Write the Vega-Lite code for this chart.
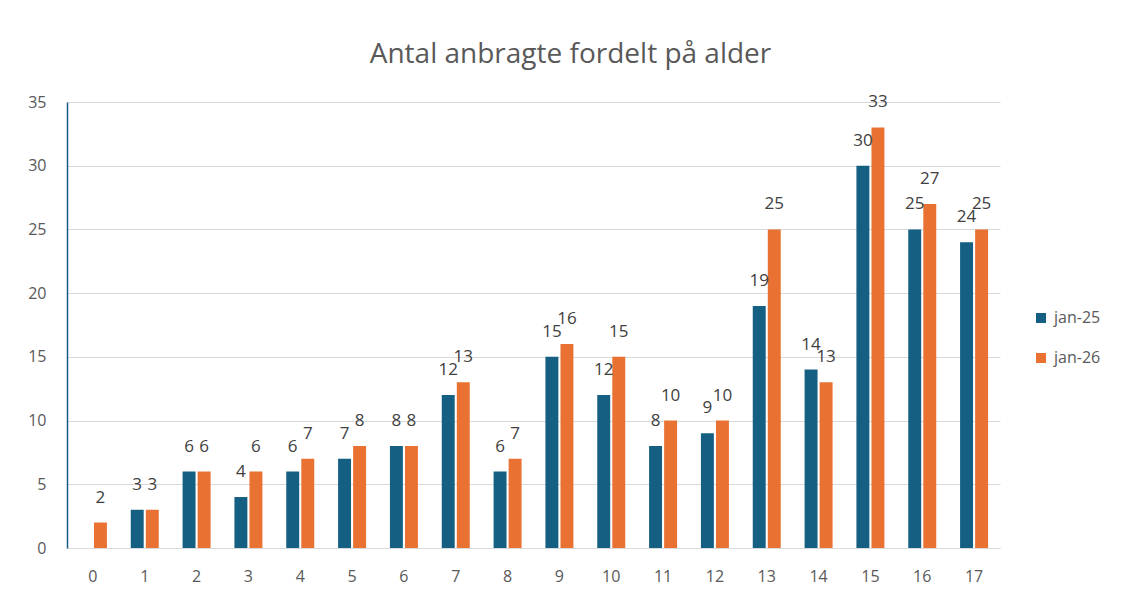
{
  "$schema": "https://vega.github.io/schema/vega-lite/v6.json",
  "autosize": {"type": "none"},
  "width": 933,
  "height": 446,
  "padding": {"left": 67, "top": 102, "right": 125, "bottom": 50},
  "background": "white",
  "config": {
    "font": "Open Sans",
    "view": {"stroke": null}
  },
  "title": {
    "text": "Antal anbragte fordelt på alder",
    "font": "Open Sans",
    "fontSize": 28,
    "fontWeight": "normal",
    "color": "#595959",
    "anchor": "middle",
    "dx": 37,
    "offset": 24
  },
  "data": {
    "values": [
      {"alder": "0", "serie": "jan-26", "antal": 2},
      {"alder": "1", "serie": "jan-25", "antal": 3},
      {"alder": "1", "serie": "jan-26", "antal": 3},
      {"alder": "2", "serie": "jan-25", "antal": 6},
      {"alder": "2", "serie": "jan-26", "antal": 6},
      {"alder": "3", "serie": "jan-25", "antal": 4},
      {"alder": "3", "serie": "jan-26", "antal": 6},
      {"alder": "4", "serie": "jan-25", "antal": 6},
      {"alder": "4", "serie": "jan-26", "antal": 7},
      {"alder": "5", "serie": "jan-25", "antal": 7},
      {"alder": "5", "serie": "jan-26", "antal": 8},
      {"alder": "6", "serie": "jan-25", "antal": 8},
      {"alder": "6", "serie": "jan-26", "antal": 8},
      {"alder": "7", "serie": "jan-25", "antal": 12},
      {"alder": "7", "serie": "jan-26", "antal": 13},
      {"alder": "8", "serie": "jan-25", "antal": 6},
      {"alder": "8", "serie": "jan-26", "antal": 7},
      {"alder": "9", "serie": "jan-25", "antal": 15},
      {"alder": "9", "serie": "jan-26", "antal": 16},
      {"alder": "10", "serie": "jan-25", "antal": 12},
      {"alder": "10", "serie": "jan-26", "antal": 15},
      {"alder": "11", "serie": "jan-25", "antal": 8},
      {"alder": "11", "serie": "jan-26", "antal": 10},
      {"alder": "12", "serie": "jan-25", "antal": 9},
      {"alder": "12", "serie": "jan-26", "antal": 10},
      {"alder": "13", "serie": "jan-25", "antal": 19},
      {"alder": "13", "serie": "jan-26", "antal": 25},
      {"alder": "14", "serie": "jan-25", "antal": 14},
      {"alder": "14", "serie": "jan-26", "antal": 13},
      {"alder": "15", "serie": "jan-25", "antal": 30},
      {"alder": "15", "serie": "jan-26", "antal": 33},
      {"alder": "16", "serie": "jan-25", "antal": 25},
      {"alder": "16", "serie": "jan-26", "antal": 27},
      {"alder": "17", "serie": "jan-25", "antal": 24},
      {"alder": "17", "serie": "jan-26", "antal": 25}
    ]
  },
  "encoding": {
    "x": {
      "field": "alder",
      "type": "ordinal",
      "sort": ["0","1","2","3","4","5","6","7","8","9","10","11","12","13","14","15","16","17"],
      "scale": {"paddingInner": 0.46, "paddingOuter": 0.23},
      "axis": {
        "title": null,
        "labelAngle": 0,
        "ticks": false,
        "domain": true,
        "domainColor": "#d9d9d9",
        "labelPadding": 20,
        "labelFont": "Open Sans",
        "labelFontSize": 16,
        "labelColor": "#595959"
      }
    },
    "xOffset": {
      "field": "serie",
      "type": "nominal",
      "sort": ["jan-25", "jan-26"],
      "scale": {"paddingInner": 0.14}
    },
    "y": {
      "field": "antal",
      "type": "quantitative",
      "scale": {"domain": [0, 35], "nice": false},
      "axis": {
        "title": null,
        "values": [0, 5, 10, 15, 20, 25, 30, 35],
        "ticks": false,
        "domain": true,
        "domainColor": "#156082",
        "domainWidth": 1.5,
        "gridColor": "#d9d9d9",
        "labelPadding": 21,
        "labelFont": "Open Sans",
        "labelFontSize": 16,
        "labelColor": "#595959"
      }
    }
  },
  "layer": [
    {
      "mark": {"type": "bar"},
      "encoding": {
        "color": {
          "field": "serie",
          "type": "nominal",
          "scale": {"domain": ["jan-25", "jan-26"], "range": ["#156082", "#E97132"]},
          "legend": {
            "title": null,
            "orient": "none",
            "legendX": 966,
            "legendY": 208,
            "symbolType": "square",
            "symbolSize": 100,
            "symbolStrokeWidth": 0,
            "labelFontSize": 16,
            "labelColor": "#595959",
            "labelFont": "Open Sans",
            "rowPadding": 24,
            "labelOffset": 5
          }
        }
      }
    },
    {
      "mark": {"type": "text", "baseline": "middle", "align": "center", "dy": -25, "fontSize": 17, "color": "#404040", "font": "Open Sans"},
      "encoding": {
        "text": {"field": "antal", "type": "quantitative"}
      }
    }
  ]
}
